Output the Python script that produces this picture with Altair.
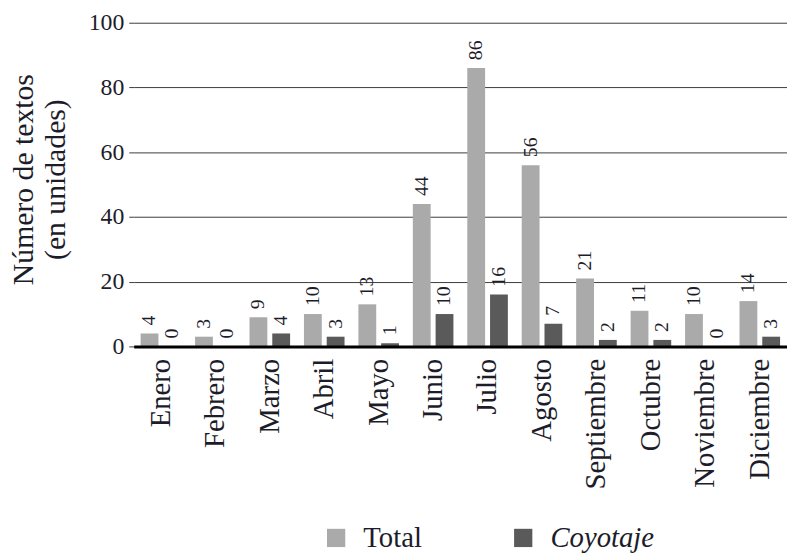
import altair as alt
import pandas as pd

months = ["Enero", "Febrero", "Marzo", "Abril", "Mayo", "Junio", "Julio",
          "Agosto", "Septiembre", "Octubre", "Noviembre", "Diciembre"]
total = [4, 3, 9, 10, 13, 44, 86, 56, 21, 11, 10, 14]
coyotaje = [0, 0, 4, 3, 1, 10, 16, 7, 2, 2, 0, 3]
series = ["Total", "Coyotaje"]
colors = ["#aaaaaa", "#5a5a5a"]
y_ticks = [0, 20, 40, 60, 80, 100]

rows = []
for m, t, c in zip(months, total, coyotaje):
    rows.append({"mes": m, "serie": "Total", "valor": t})
    rows.append({"mes": m, "serie": "Coyotaje", "valor": c})
df = pd.DataFrame(rows)

FONT = "Liberation Serif"
TEXT = "#1c1c2a"

x = alt.X("mes:N", sort=months,
          scale=alt.Scale(paddingInner=0.2545, paddingOuter=0.127),
          axis=alt.Axis(title=None, labelAngle=270, labelAlign="right",
                        labelBaseline="middle", labelPadding=12, ticks=False,
                        domainColor="black", domainWidth=3, labelFont=FONT,
                        labelFontSize=29, labelColor=TEXT, zindex=1))
xo = alt.XOffset("serie:N", sort=series,
                 scale=alt.Scale(domain=series, paddingInner=0.217, paddingOuter=0))
y = alt.Y("valor:Q", scale=alt.Scale(domain=[0, 100]),
          axis=alt.Axis(values=y_ticks, title=["Número de textos", "(en unidades)"],
                        grid=True, gridColor="#3c3c3c", gridWidth=1, domain=False,
                        tickSize=5, tickColor="#3c3c3c", labelFont=FONT,
                        labelFontSize=24, labelPadding=5, labelColor=TEXT,
                        titleX=-111, titleY=158, titleAngle=270,
                        titleBaseline="middle", titleAlign="center",
                        titleFont=FONT, titleFontSize=30, titleLineHeight=32,
                        titleFontWeight="normal", titleColor=TEXT))


def legend(lx, style):
    return alt.Legend(title=None, orient="none", legendX=lx, legendY=506,
                      symbolType="square", symbolSize=340, symbolStrokeWidth=0,
                      labelOffset=13, labelFont=FONT, labelFontSize=29,
                      labelColor=TEXT, labelFontStyle=style, padding=0)


bars_total = alt.Chart().transform_filter(alt.datum.serie == "Total").mark_bar().encode(
    x=x, xOffset=xo, y=y,
    color=alt.Color("serie:N", scale=alt.Scale(domain=[series[0]], range=[colors[0]]),
                    legend=legend(190, "normal")),
)
bars_coy = alt.Chart().transform_filter(alt.datum.serie == "Coyotaje").mark_bar().encode(
    x=x, xOffset=xo, y=y,
    fill=alt.Fill("serie:N", scale=alt.Scale(domain=[series[1]], range=[colors[1]]),
                  legend=legend(379, "italic")),
)

labels = alt.Chart().mark_text(angle=270, align="left", baseline="middle", dx=8,
                               font=FONT, fontSize=20, color=TEXT).encode(
    x=x, xOffset=xo, y=y, text="valor:Q")

chart = alt.layer(bars_total, bars_coy, labels, data=df).resolve_scale(
    color="independent", fill="independent"
).properties(
    width=660, height=327, autosize="none",
    padding={"left": 127, "top": 12, "right": 0, "bottom": 222},
).configure(font=FONT).configure_view(stroke=None)

chart.save("out.html", embed_options={"renderer": "svg", "actions": False})
